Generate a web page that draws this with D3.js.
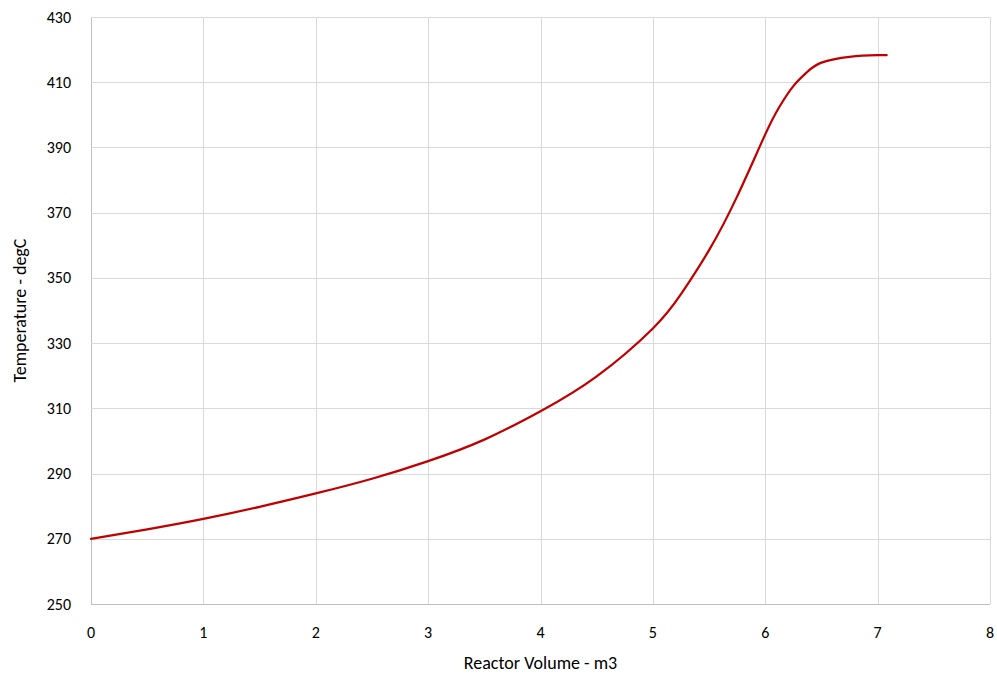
<!DOCTYPE html>
<html>
<head>
<meta charset="UTF-8">
<title>Reactor temperature profile</title>
<script src="https://d3js.org/d3.v7.min.js"></script>
<style>
  body { margin: 0; background: #fff; }
  text { font-family: Carlito, Lato, "Open Sans", sans-serif; fill: #000; }
</style>
</head>
<body>
<div id="chart"></div>
<script>
// data
var volume = [0, 0.5, 1, 1.5, 2, 2.5, 3, 3.5, 4, 4.5, 5, 5.25, 5.5, 5.75, 6, 6.125, 6.25, 6.375, 6.5, 6.75, 7, 7.08];
var temperature = [270, 272.9, 276.1, 279.8, 283.9, 288.4, 293.8, 300.4, 309.1, 319.8, 334.5, 345, 358.5, 375, 394, 402.4, 408.8, 413.2, 416, 417.8, 418.3, 418.3];
var xTicks = [0, 1, 2, 3, 4, 5, 6, 7, 8];
var yTicks = [250, 270, 290, 310, 330, 350, 370, 390, 410, 430];

var W = 997, H = 677;
var margin = {top: 17, right: 7, bottom: 73, left: 91};

var svg = d3.select("#chart").append("svg")
    .attr("width", W)
    .attr("height", H);

var x = d3.scaleLinear().domain([0, 8]).range([margin.left, W - margin.right]);
var y = d3.scaleLinear().domain([250, 430]).range([H - margin.bottom, margin.top]);

// gridlines
svg.append("g")
  .selectAll("line")
  .data(xTicks)
  .enter().append("line")
    .attr("x1", function(d) { return Math.round(x(d)) + 0.5; })
    .attr("x2", function(d) { return Math.round(x(d)) + 0.5; })
    .attr("y1", y(430))
    .attr("y2", y(250))
    .attr("stroke", function(d) { return d === 0 ? "#bfbfbf" : "#d9d9d9"; })
    .attr("stroke-width", 1);

svg.append("g")
  .selectAll("line")
  .data(yTicks)
  .enter().append("line")
    .attr("x1", x(0))
    .attr("x2", x(8))
    .attr("y1", function(d) { return Math.round(y(d)) + 0.5; })
    .attr("y2", function(d) { return Math.round(y(d)) + 0.5; })
    .attr("stroke", function(d) { return d === 250 ? "#bfbfbf" : "#d9d9d9"; })
    .attr("stroke-width", 1);

// tick labels
svg.append("g")
  .selectAll("text")
  .data(yTicks)
  .enter().append("text")
    .attr("x", x(0) - 20)
    .attr("y", function(d) { return y(d); })
    .attr("dy", "0.35em")
    .attr("text-anchor", "end")
    .style("font-size", "16px")
    .text(function(d) { return d; });

svg.append("g")
  .selectAll("text")
  .data(xTicks)
  .enter().append("text")
    .attr("x", function(d) { return x(d); })
    .attr("y", y(250) + 28)
    .attr("dy", "0.35em")
    .attr("text-anchor", "middle")
    .style("font-size", "16px")
    .text(function(d) { return d; });

// axis titles
svg.append("text")
  .attr("x", (x(0) + x(8)) / 2)
  .attr("y", 663)
  .attr("dy", "0.35em")
  .attr("text-anchor", "middle")
  .style("font-size", "18px")
  .text("Reactor Volume - m3");

svg.append("text")
  .attr("transform", "translate(20," + ((y(250) + y(430)) / 2) + ") rotate(-90)")
  .attr("dy", "0.35em")
  .attr("text-anchor", "middle")
  .style("font-size", "18px")
  .text("Temperature - degC");

// the line
var pts = volume.map(function(v, i) { return [v, temperature[i]]; });
svg.append("path")
  .datum(pts)
  .attr("fill", "none")
  .attr("stroke", "#c00000")
  .attr("stroke-width", 2.25)
  .attr("stroke-linecap", "round")
  .attr("d", d3.line()
    .curve(d3.curveNatural)
    .x(function(d) { return x(d[0]); })
    .y(function(d) { return y(d[1]); }));
</script>
</body>
</html>
